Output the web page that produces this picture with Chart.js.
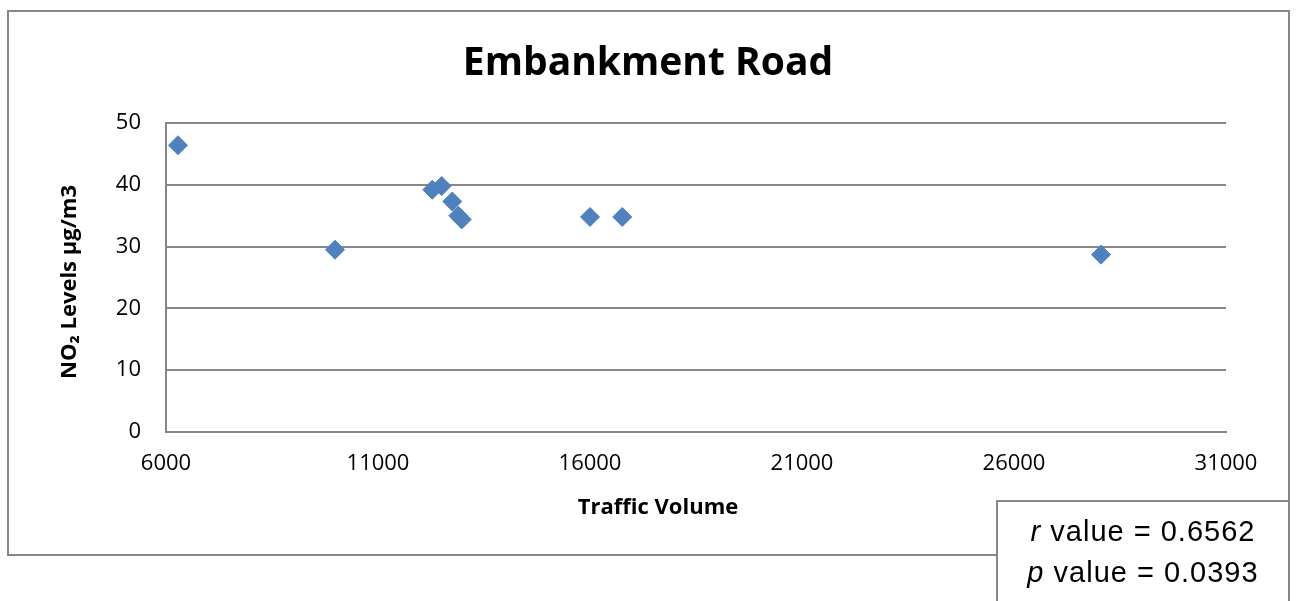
<!DOCTYPE html>
<html>
<head>
<meta charset="utf-8">
<script src="https://cdn.jsdelivr.net/npm/chart.js@4/dist/chart.umd.min.js"></script>
<style>
  html, body { margin: 0; padding: 0; background: #ffffff; }
  canvas { display: block; }
</style>
</head>
<body>
<canvas id="chart" width="1298" height="601"></canvas>
<script>
// Traffic volume against measured NO2 concentration at each site
const trafficVolume = [6283, 9986, 12281, 12502, 12752, 12894, 12974, 16000, 16760, 28052];
const no2Levels     = [46.4, 29.5, 39.2, 39.8, 37.3, 35.0, 34.4, 34.8, 34.8, 28.7];

const xTickValues = [6000, 11000, 16000, 21000, 26000, 31000];
const yTickValues = [0, 10, 20, 30, 40, 50];

const chartTitle = 'Embankment Road';
const xAxisTitle = 'Traffic Volume';
const yAxisTitle = 'NO\u2082 Levels \u00b5g/m3';
const statLines = [
  { symbol: 'r', text: ' value = 0.6562' },
  { symbol: 'p', text: ' value = 0.0393' }
];

const points = trafficVolume.map((x, i) => ({ x: x, y: no2Levels[i] }));

const frameColor = '#878787';
const labelFont = '"Open Sans", Lato, sans-serif';

// White page, outer frame and headings drawn around the plot
const decorations = {
  id: 'decorations',
  beforeDraw(chart) {
    const ctx = chart.ctx;
    ctx.save();
    ctx.fillStyle = '#ffffff';
    ctx.fillRect(0, 0, chart.width, chart.height);
    ctx.strokeStyle = frameColor;
    ctx.lineWidth = 2;
    ctx.strokeRect(8, 11, 1281, 544);
    ctx.restore();
  },
  afterDraw(chart) {
    const ctx = chart.ctx;
    ctx.save();
    ctx.fillStyle = '#000000';
    ctx.textAlign = 'center';
    ctx.textBaseline = 'alphabetic';

    ctx.font = 'bold 39px ' + labelFont;
    ctx.fillText(chartTitle, 648, 75);

    ctx.font = 'bold 22px ' + labelFont;
    ctx.fillText(xAxisTitle, 658, 514);

    // vertical axis title, read bottom to top
    ctx.save();
    ctx.translate(76, 282);
    ctx.rotate(-Math.PI / 2);
    ctx.fillText(yAxisTitle, 0, 0);
    ctx.restore();

    // statistics box in the lower right corner
    ctx.fillStyle = '#ffffff';
    ctx.fillRect(997, 501, 292, 110);
    ctx.strokeStyle = frameColor;
    ctx.lineWidth = 2;
    ctx.strokeRect(997, 501, 292, 110);

    ctx.fillStyle = '#000000';
    ctx.textAlign = 'left';
    const baselines = [541, 582];
    statLines.forEach((line, i) => {
      const italic = 'italic 29px "Liberation Sans", Arial, sans-serif';
      const upright = '29px "Liberation Sans", Arial, sans-serif';
      ctx.letterSpacing = '1px';
      ctx.font = italic;
      const w1 = ctx.measureText(line.symbol).width;
      ctx.font = upright;
      const w2 = ctx.measureText(line.text).width;
      const start = 1143 - (w1 + w2) / 2;
      ctx.font = italic;
      ctx.fillText(line.symbol, start, baselines[i]);
      ctx.font = upright;
      ctx.fillText(line.text, start + w1, baselines[i]);
    });
    ctx.restore();
  }
};

new Chart(document.getElementById('chart'), {
  type: 'scatter',
  data: {
    datasets: [{
      data: points,
      pointStyle: 'rectRot',
      pointRadius: 9.5,
      pointHoverRadius: 9.5,
      backgroundColor: '#4F81BD',
      borderColor: '#4F81BD',
      borderWidth: 1
    }]
  },
  options: {
    responsive: false,
    animation: false,
    events: [],
    layout: { padding: { top: 123, left: 0, right: 72, bottom: 109 } },
    plugins: {
      legend: { display: false },
      title: { display: false },
      tooltip: { enabled: false }
    },
    scales: {
      x: {
        type: 'linear',
        min: 6000,
        max: 31000,
        afterBuildTicks(scale) { scale.ticks = xTickValues.map(v => ({ value: v })); },
        afterFit(scale) { scale.height = 60; },
        ticks: {
          color: '#000000',
          font: { family: labelFont, size: 22 },
          padding: 19,
          maxRotation: 0,
          callback: v => String(v)
        },
        grid: { display: false, drawTicks: false },
        border: { display: true, color: frameColor, width: 2 }
      },
      y: {
        type: 'linear',
        min: 0,
        max: 50,
        afterBuildTicks(scale) { scale.ticks = yTickValues.map(v => ({ value: v })); },
        afterFit(scale) { scale.width = 166; },
        ticks: {
          color: '#000000',
          font: { family: labelFont, size: 22 },
          padding: 25,
          callback: v => String(v)
        },
        grid: { color: frameColor, lineWidth: 2, drawTicks: false },
        border: { display: true, color: frameColor, width: 2 }
      }
    }
  },
  plugins: [decorations]
});
</script>
</body>
</html>
